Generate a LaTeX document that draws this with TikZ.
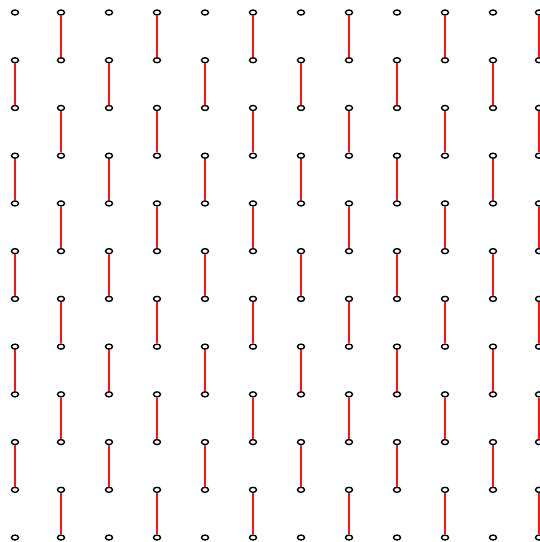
\documentclass[tikz,border=0pt]{standalone}
\usetikzlibrary{shapes.geometric}

\definecolor{rungred}{RGB}{250,20,20}
\tikzset{
  dot/.style={draw=black, ellipse, line width=1.4pt, minimum width=7pt, minimum height=5pt, inner sep=0pt},
  rung/.style={draw=rungred, line width=1.7pt}
}

\begin{document}
\begin{tikzpicture}[x=1pt, y=-1pt]
	\useasboundingbox (0,0) rectangle (540,542);
	
	% grid of points, 12 x 12
	\foreach \c in {0,...,11}
		\foreach \r in {0,...,11} {
			\pgfmathsetmacro{\px}{2*int((14+47.8*\c)/2)+1}
			\pgfmathsetmacro{\py}{12.5+47.73*\r}
			\node[dot] (p-\c-\r) at (\px,\py) {};
		}
	
	% even columns: rows 1-2, 3-4, ...
	\foreach \c in {0,2,...,10}
		\foreach \r in {1,3,...,9} {
			\pgfmathtruncatemacro{\s}{\r+1}
			\path[rung] (p-\c-\r.south) -- (p-\c-\s.north);
		}
	
	% odd columns: rows 0-1, 2-3, ...
	\foreach \c in {1,3,...,11}
		\foreach \r in {0,2,...,10} {
			\pgfmathtruncatemacro{\s}{\r+1}
			\path[rung] (p-\c-\r.south) -- (p-\c-\s.north);
		}
\end{tikzpicture}
\end{document}
